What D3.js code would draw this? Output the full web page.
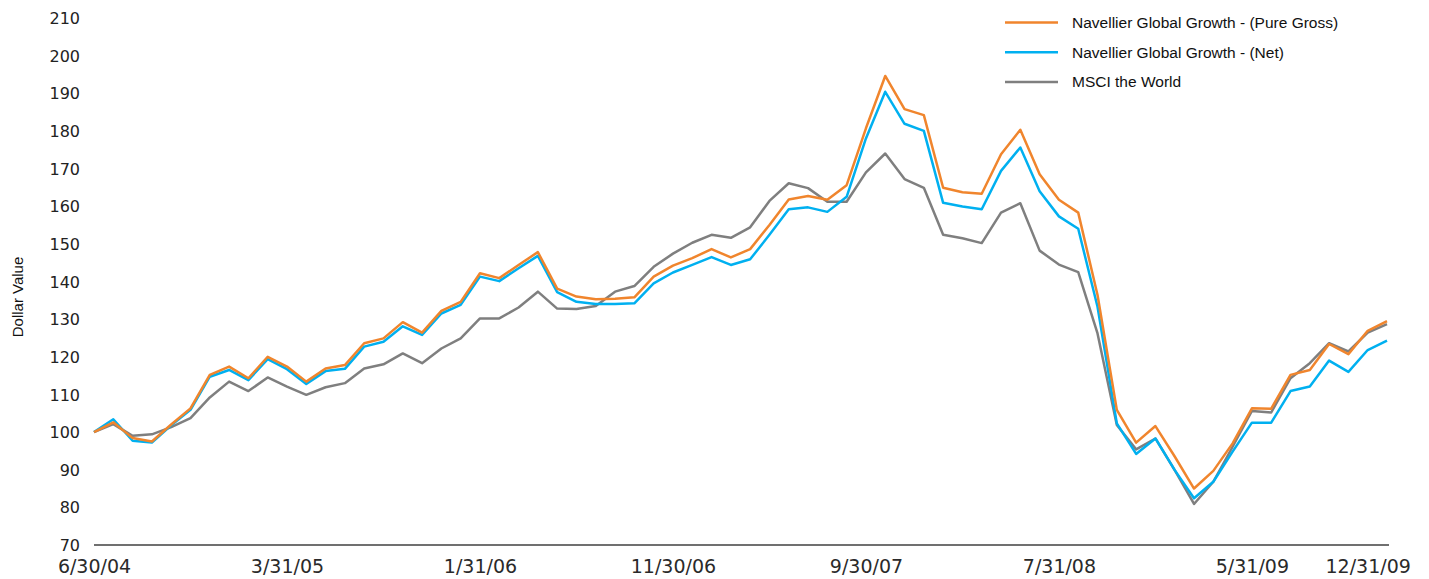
<!DOCTYPE html>
<html>
<head>
<meta charset="utf-8">
<script src="https://cdn.jsdelivr.net/npm/d3@7"></script>
<style>
  body { margin: 0; background: #fff; }
  .tick-y { font-family: "DejaVu Sans", sans-serif; font-size: 16px; fill: #222; }
  .tick-x { font-family: "DejaVu Sans", sans-serif; font-size: 19px; fill: #2a2a2a; }
  .legend text { font-family: "Liberation Sans", Arial, sans-serif; font-size: 15.5px; fill: #111; }
</style>
</head>
<body>
<div id="canvas"></div>
<script>
const w = 1429;
const h = 579;

// month-end dates, 6/30/04 .. 12/31/09 (68 points)
const dates = d3.range(68).map(i => i);

const tickIndex = [0, 10, 20, 30, 40, 50, 60, 66];
const tickLabels = ["6/30/04", "3/31/05", "1/31/06", "11/30/06", "9/30/07", "7/31/08", "5/31/09", "12/31/09"];

const yTicks = [70, 80, 90, 100, 110, 120, 130, 140, 150, 160, 170, 180, 190, 200, 210];

const pureGross = [
  100, 102.6, 98.4, 97.5, 102, 106.3, 115.2, 117.4, 114.3, 120,
  117.4, 113.4, 116.9, 117.8, 123.6, 124.9, 129.2, 126.4, 132.2, 134.6,
  142.2, 140.9, 144.4, 147.8, 138.1, 136, 135.3, 135.4, 135.8, 141.3,
  144.2, 146.2, 148.6, 146.4, 148.6, 155, 161.8, 162.7, 161.7, 165.6,
  180.7, 194.6, 185.8, 184.2, 164.9, 163.7, 163.3, 173.8, 180.3, 168.5,
  161.7, 158.3, 136.4, 105.9, 97.2, 101.6, 93.5, 85, 89.7, 97,
  106.3, 106.2, 115.2, 116.5, 123.4, 120.7, 126.9, 129.5
];

const net = [
  100, 103.4, 97.7, 97.2, 101.8, 105.9, 114.7, 116.5, 113.8, 119.4,
  116.7, 112.8, 116.2, 116.8, 122.7, 124, 128.1, 125.8, 131.5, 133.8,
  141.3, 140.1, 143.5, 146.8, 137.2, 134.6, 134, 134, 134.2, 139.5,
  142.4, 144.4, 146.5, 144.4, 145.9, 152.4, 159.2, 159.7, 158.5, 162.5,
  178, 190.4, 181.9, 180, 160.9, 159.9, 159.2, 169.4, 175.6, 164,
  157.3, 154, 133.3, 102.3, 94.2, 98.3, 89.9, 82.4, 86.8, 94.8,
  102.5, 102.5, 110.9, 112.1, 119, 116, 121.8, 124.3
];

const msciWorld = [
  100, 102.1, 99, 99.4, 101.3, 103.7, 109.2, 113.4, 110.9, 114.5,
  112.1, 109.9, 111.9, 113, 116.9, 118, 120.9, 118.3, 122.2, 124.9,
  130.2, 130.2, 133.1, 137.3, 132.8, 132.7, 133.5, 137.3, 138.8, 143.9,
  147.4, 150.3, 152.4, 151.6, 154.4, 161.4, 166.1, 164.8, 161.2, 161.2,
  169, 174, 167.2, 164.9, 152.4, 151.5, 150.2, 158.3, 160.8, 148.2,
  144.5, 142.5, 126.2, 101.9, 95.4, 98.3, 89.9, 80.9, 86.8, 96.1,
  105.6, 105.2, 114.3, 118.3, 123.6, 121.4, 126.4, 128.7
];

const seriesNames = ["Navellier Global Growth - (Pure Gross)", "Navellier Global Growth - (Net)", "MSCI the World"];
const seriesColors = ["#f0852d", "#00b0f0", "#7f7f7f"];
const seriesData = [pureGross, net, msciWorld];

const svg = d3.select("#canvas").append("svg")
  .attr("width", w)
  .attr("height", h);

const x = d3.scaleLinear().domain([0, 67]).range([94, 1387]);
const y = d3.scaleLinear().domain([70, 210]).range([545, 18]);

// y tick labels (no axis line)
const yAxis = d3.axisLeft(y).tickValues(yTicks).tickSize(0).tickPadding(0);
const gy = svg.append("g").attr("transform", "translate(80,0)").call(yAxis);
gy.attr("font-size", null).attr("font-family", null);
gy.select(".domain").remove();
gy.selectAll("text").attr("class", "tick-y").attr("dy", "0.35em");

// x axis
const xAxis = d3.axisBottom(x).tickValues(tickIndex)
  .tickFormat((d, i) => tickLabels[i]).tickSize(0).tickPadding(15);
const gx = svg.append("g").attr("transform", "translate(0,545)").call(xAxis);
gx.attr("font-size", null).attr("font-family", null);
gx.select(".domain").remove();
gx.selectAll("text").attr("class", "tick-x");
gx.append("line")
  .attr("x1", 94).attr("x2", 1389)
  .attr("stroke", "#707070").attr("stroke-width", 2);

// y title
svg.append("text")
  .attr("transform", "translate(23,297) rotate(-90)")
  .attr("text-anchor", "middle")
  .style("font-family", "'Liberation Sans', Arial, sans-serif")
  .style("font-size", "15px")
  .style("fill", "#111")
  .text("Dollar Value");

// lines, gray at bottom
const line = d3.line().x((d, i) => x(dates[i])).y(d => y(d));
[2, 1, 0].forEach(k => {
  svg.append("path")
    .datum(seriesData[k])
    .attr("fill", "none")
    .attr("stroke", seriesColors[k])
    .attr("stroke-width", 2.5)
    .attr("stroke-linejoin", "round")
    .attr("d", line);
});

// legend
const legend = svg.append("g").attr("class", "legend");
seriesNames.forEach((name, i) => {
  const ly = 22.5 + i * 29.7;
  legend.append("line")
    .attr("x1", 1005).attr("x2", 1058)
    .attr("y1", ly).attr("y2", ly)
    .attr("stroke", seriesColors[i]).attr("stroke-width", 2.5);
  legend.append("text")
    .attr("x", 1072).attr("y", ly).attr("dy", "0.35em")
    .text(name);
});
</script>
</body>
</html>
